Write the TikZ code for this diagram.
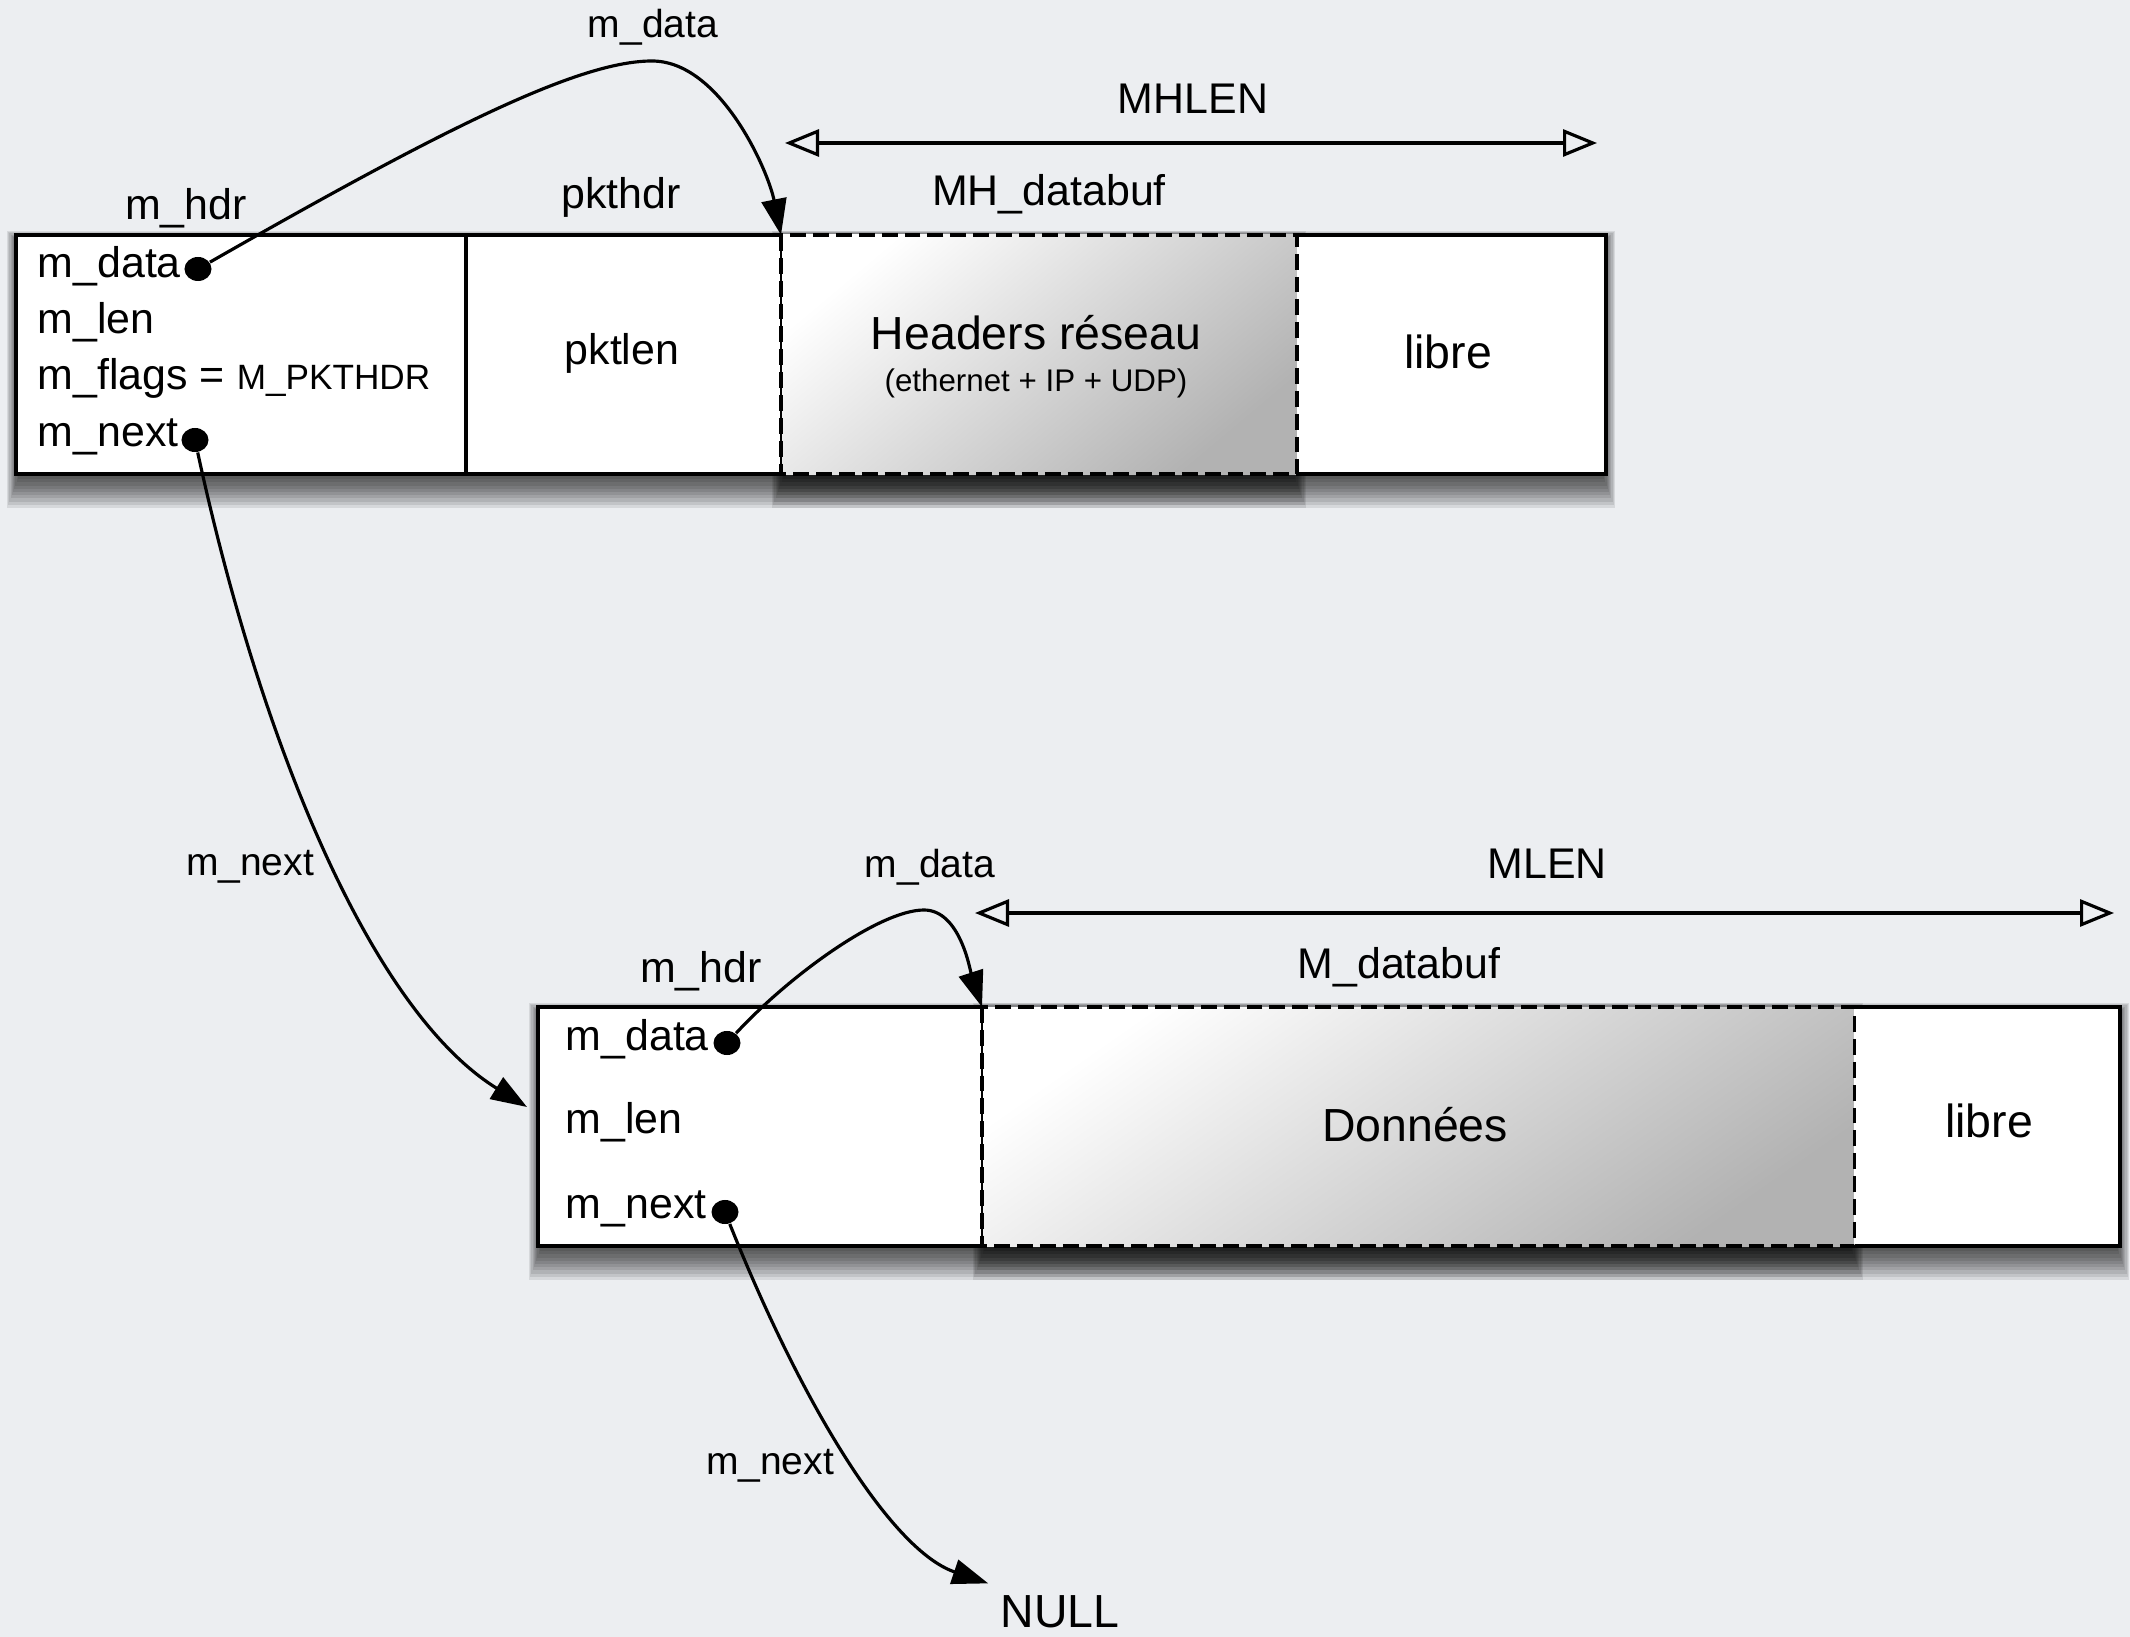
\documentclass[tikz,border=0pt]{standalone}
\usepackage{fontspec}
\setmainfont{Liberation Sans}
\usetikzlibrary{arrows.meta,calc,shapes.geometric}

\definecolor{bg}{RGB}{236,238,241}
\definecolor{bufgray}{RGB}{178,178,178}

% soft drop shadow below a rectangle given by its corners (x1,y1) (x2,y2)
\newcommand\boxshadow[4]{%
  \foreach \i in {0,...,9}{%
    \fill[black, fill opacity=0.09]
      (#1-9+1.2*\i, #2-4+1.2*\i) rectangle (#3+9-1.2*\i, #4+34-3.2*\i);
  }%
}

\tikzset{
  cell/.style={rectangle, inner sep=0pt, outer sep=0pt, anchor=north west, fill=white},
  buf/.style={rectangle, inner sep=0pt, outer sep=0pt, anchor=north west,
    shading=axis, top color=white, bottom color=bufgray},
  frame/.style={draw=black, line width=1.1pt, line join=miter},
  dashframe/.style={draw=black, line width=1.1pt, dash pattern=on 4.5pt off 2pt},
  thinline/.style={draw=black, line width=0.4pt},
  lblS/.style={inner sep=0pt, font=\fontsize{11.1}{13}\selectfont},
  lblM/.style={inner sep=0pt, font=\fontsize{12.2}{14}\selectfont},
  lblL/.style={inner sep=0pt, font=\fontsize{13.2}{15}\selectfont},
  field/.style={lblM, anchor=west},
  dot/.style={ellipse, fill=black, inner sep=0pt, minimum width=0.27cm, minimum height=0.24cm},
  ptr/.style={draw=black, line width=0.9pt, -{Triangle[length=0.36cm, width=0.25cm]}},
  dim/.style={draw=black, line width=0.9pt,
    {Triangle[open, length=0.34cm, width=0.27cm]}-{Triangle[open, length=0.34cm, width=0.27cm]}},
}

\begin{document}
\begin{tikzpicture}[x=0.01cm, y=-0.01cm]
  % page and background
  \useasboundingbox (0,0) rectangle (2130,1637);
  \fill[bg] (0,0) rectangle (2130,1637);

  % ---------- shadows ----------
  \boxshadow{16}{235}{1606}{474}
  \boxshadow{781}{235}{1297}{474}
  \boxshadow{538}{1007}{2120}{1246}
  \boxshadow{982}{1007}{1854}{1246}

  % ---------- first mbuf (packet header) ----------
  \node[cell, minimum width=4.50cm, minimum height=2.39cm] (hdr1) at (16,235) {};
  \node[cell, minimum width=3.15cm, minimum height=2.39cm] (pk) at (466,235) {};
  \node[buf, shading angle=40, minimum width=5.16cm, minimum height=2.39cm] (mh) at (781,235) {};
  \node[cell, minimum width=3.09cm, minimum height=2.39cm] (libre1) at (1297,235) {};

  \path[frame] (mh.north west) -- (hdr1.north west) -- (hdr1.south west) -- (mh.south west);
  \path[frame] (mh.north east) -- (libre1.north east) -- (libre1.south east) -- (mh.south east);
  \path[frame] (hdr1.north east) -- (hdr1.south east);
  \path[thinline] (mh.north west) -- (mh.south west);
  \path[dashframe] (mh.north west) rectangle (mh.south east);

  \node[field] (fA1) at (37,266) {m\_data};
  \node[field] (fA2) at (37,322) {m\_len};
  \node[field] (fA3) at (37,378) {m\_flags = {\fontsize{10}{12}\selectfont M\_PKTHDR}};
  \node[field] (fA4) at (37,437) {m\_next};

  \node[lblM] (pktlen) at (622,353) {pktlen};
  \node[lblL] (hdrs) at (1036,333) {Headers réseau};
  \node[inner sep=0pt, font=\fontsize{8.9}{11}\selectfont] (proto) at (1036,383) {(ethernet + IP + UDP)};
  \node[lblL] (libreA) at (1448,352) {libre};

  \node[lblM] (hdrA) at (186,208) {m\_hdr};
  \node[lblM] (pkthdr) at (621,197) {pkthdr};
  \node[lblM] (mhdb) at (1049,194) {MH\_databuf};
  \node[lblM] (mhlen) at (1193,99) {MHLEN};
  \node[lblS] (ldataA) at (653,27) {m\_data};

  \coordinate (mhl) at (785,143);
  \coordinate (mhr) at (1597,143);
  \path[dim] (mhl) -- (mhr);

  % ---------- second mbuf (plain data) ----------
  \node[cell, minimum width=4.44cm, minimum height=2.39cm] (hdr2) at (538,1007) {};
  \node[buf, shading angle=35, minimum width=8.72cm, minimum height=2.39cm] (md) at (982,1007) {};
  \node[cell, minimum width=2.66cm, minimum height=2.39cm] (libre2) at (1854,1007) {};

  \path[frame] (md.north west) -- (hdr2.north west) -- (hdr2.south west) -- (md.south west);
  \path[frame] (md.north east) -- (libre2.north east) -- (libre2.south east) -- (md.south east);
  \path[thinline] (md.north west) -- (md.south west);
  \path[dashframe] (md.north west) rectangle (md.south east);

  \node[field] (fB1) at (565,1039) {m\_data};
  \node[field] (fB2) at (565,1122) {m\_len};
  \node[field] (fB3) at (565,1209) {m\_next};

  \node[lblL] (donnees) at (1415,1125) {Données};
  \node[lblL] (libreB) at (1989,1121) {libre};

  \node[lblM] (hdrB) at (701,971) {m\_hdr};
  \node[lblM] (mdb) at (1399,967) {M\_databuf};
  \node[lblM] (mlen) at (1547,864) {MLEN};
  \node[lblS] (ldataB) at (930,867) {m\_data};

  \coordinate (mll) at (975,913);
  \coordinate (mlr) at (2114,913);
  \path[dim] (mll) -- (mlr);

  % ---------- pointers ----------
  \node[lblS] (lnextA) at (250,867) {m\_next};
  \node[lblS] (lnextB) at (770,1466) {m\_next};
  \node[font=\fontsize{13.2}{15}\selectfont] (null) at (1060,1612) {NULL};

  \node[dot] (dA1) at (198,269) {};
  \node[dot] (dA2) at (195,440) {};
  \node[dot] (dB1) at (727,1043) {};
  \node[dot] (dB2) at (725,1212) {};

  \coordinate (peakA) at (652,61);
  \coordinate (peakB) at (924,910);
  \coordinate (inB) at ($(hdr2.north west)+(-11,100)$);

  \path[ptr] (dA1) .. controls (448,126) and (580,61) .. (peakA)
                   .. controls (720,61) and (768,170) .. (mh.north west);
  \path[ptr] (dA2) .. controls (260,740) and (370,1010) .. (inB);
  \path[ptr] (dB1) .. controls (790,975) and (880,910) .. (peakB)
                   .. controls (960,910) and (970,970) .. (md.north west);
  \path[ptr] (dB2) .. controls (800,1400) and (890,1550) .. (null.north west);
\end{tikzpicture}
\end{document}
